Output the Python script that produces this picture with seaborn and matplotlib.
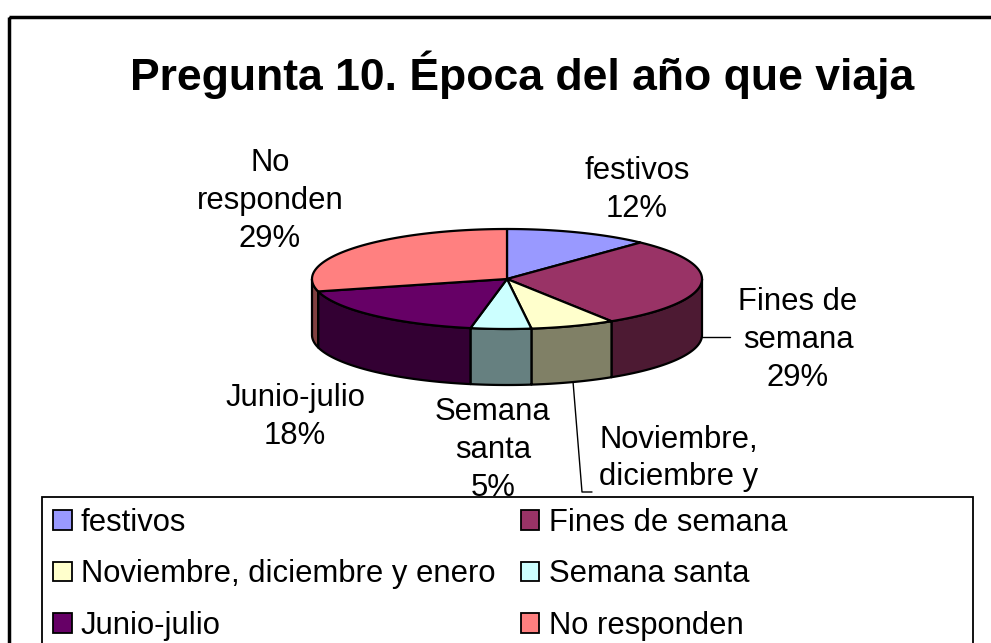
import numpy as np
import matplotlib
matplotlib.use("Agg")
import matplotlib.pyplot as plt
from matplotlib.patches import Polygon, Rectangle, Patch
import seaborn as sns

# data
categories = ["festivos", "Fines de semana", "Noviembre, diciembre y enero",
              "Semana santa", "Junio-julio", "No responden"]
percentages = [12, 29, 7, 5, 18, 29]
slice_labels = ["festivos", "Fines de\nsemana", "Noviembre,\ndiciembre y\nenero",
                "Semana\nsanta", "Junio-julio", "No\nresponden"]
top_colors = ["#9999FF", "#993366", "#FFFFCC", "#CCFFFF", "#660066", "#FF8080"]
title = "Pregunta 10. Época del año que viaja"

sns.set_theme(style="white")
plt.rcParams['font.family'] = ['Liberation Sans', 'DejaVu Sans']
plt.rcParams['text.color'] = 'black'

fig = plt.figure(figsize=(9.91, 6.43), dpi=100)
ax = fig.add_axes([0, 0, 1, 1])
ax.set_xlim(0, 991)
ax.set_ylim(643, 0)
ax.axis('off')

# 3D pie geometry in pixel units
cx, cy, a, b, depth = 507, 279, 195, 50, 56


def rim(t, z=0):
    t = np.radians(np.atleast_1d(t))
    return np.column_stack([cx + a * np.sin(t), cy - b * np.cos(t) + z])


palette = sns.color_palette(top_colors)
side_colors = [tuple(c * 0.5 for c in col) for col in palette]

total = np.sum(percentages)
ends = np.cumsum(percentages) / total * 360
starts = ends - np.array(percentages) / total * 360
mids = (starts + ends) / 2

# outer walls (front half only)
for s, e, col in zip(starts, ends, side_colors):
    lo, hi = max(s, 90), min(e, 270)
    if hi <= lo:
        continue
    t = np.linspace(lo, hi, 80)
    pts = np.vstack([rim(t), rim(t[::-1], depth)])
    ax.add_patch(Polygon(pts, closed=True, facecolor=col, edgecolor='black',
                         lw=1.6, joinstyle='round'))

# top faces
for s, e, col in zip(starts, ends, palette):
    t = np.linspace(s, e, 120)
    pts = np.vstack([[cx, cy], rim(t)])
    ax.add_patch(Polygon(pts, closed=True, facecolor=col, edgecolor='black',
                         lw=1.6, joinstyle='round'))

# data labels (the legend box covers the bottom of the Noviembre label, as in the original)
label_pos = [(637, 190), (798, 340), (679, 496), (493, 450), (295, 417), (270, 201)]
clip = Rectangle((0, 0), 991, 497, transform=ax.transData)
for lab, p, (x, y) in zip(slice_labels, percentages, label_pos):
    t = ax.text(x, y, f"{lab}\n{p}%", fontsize=22.3, ha='center', va='center',
                multialignment='center', linespacing=1.33, color='black')
    t.set_clip_path(clip)

# leader lines
p0 = rim(mids[1], depth * 0.95)[0]
ax.plot([p0[0], 730], [p0[1], p0[1]], color='black', lw=1)
p2 = rim(mids[2], depth)[0]
ax.plot([p2[0], 582, 592], [p2[1], 492, 492], color='black', lw=1)

# title
ax.text(522, 75, title, fontsize=32, fontweight='bold', ha='center', va='center',
        color='black')

# legend box and entries
ax.add_patch(Rectangle((42, 497), 931, 200, facecolor='white', edgecolor='black',
                       lw=1.3, zorder=5))
order = [0, 2, 4, 1, 3, 5]
handles = [Patch(facecolor=palette[i], edgecolor='black', lw=1.3) for i in order]
leg = ax.legend(handles, [categories[i] for i in order], ncol=2, frameon=False,
                loc='upper left', bbox_to_anchor=(53 / 991, 1 - 508 / 643),
                bbox_transform=fig.transFigure, fontsize=22.3, handlelength=0.6,
                handleheight=0.6, handletextpad=0.3, columnspacing=0.82,
                labelspacing=0.69, borderaxespad=0, borderpad=0)
for txt in leg.get_texts():
    txt.set_color('black')
leg.set_zorder(6)

# chart frame
ax.add_patch(Rectangle((9, 17), 1000, 700, fill=False, edgecolor='black', lw=2.5, zorder=10))

fig.savefig("out.png", dpi=100)
